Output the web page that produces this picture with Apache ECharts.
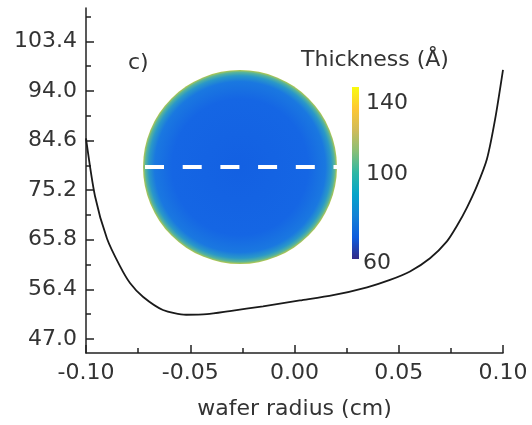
<!DOCTYPE html>
<html>
<head>
<meta charset="utf-8">
<title>wafer thickness profile</title>
<script src="https://cdn.jsdelivr.net/npm/echarts@6/dist/echarts.min.js"></script>
<style>
  html, body { margin: 0; padding: 0; background: #fff; }
  #chart { width: 532px; height: 425px; }
</style>
</head>
<body>
<div id="chart"></div>
<script>
// profile along the dashed line (wafer radius in cm, thickness)
var radius = [-0.100, -0.0957, -0.0899, -0.0837, -0.0789, -0.0727, -0.0631, -0.052, -0.042, -0.031, -0.0151, 0.0026, 0.0185, 0.0348, 0.0458, 0.0554, 0.065, 0.0731, 0.078, 0.0827, 0.0875, 0.0923, 0.0962, 0.100]
var thickness = [85.0, 74.1, 66.0, 60.8, 57.6, 55.0, 52.5, 51.6, 51.7, 52.3, 53.2, 54.3, 55.3, 56.8, 58.2, 59.8, 62.3, 65.5, 68.5, 71.9, 76.0, 81.1, 88.6, 98.0]

var yTicks = [47.0, 56.4, 65.8, 75.2, 84.6, 94.0, 103.4]
var yMinorTicks = [51.7, 61.1, 70.5, 79.9, 89.3, 98.7, 108.1]
var colorbarLabels = ['140', '100', '60']
var parula = ['#f9fb0e', '#fec832', '#d1bb59', '#87bf77', '#2eb7a4', '#06a4ca', '#1481d6', '#0f5cdd', '#352a87']

var font = 'DejaVu Sans'
var textColor = '#333'

var chart = echarts.init(document.getElementById('chart'))

var points = radius.map(function (x, i) {
  return [x, thickness[i]]
})

var cbarLabelY = [103, 174, 263]
var graphics = [
  {
    type: 'circle',
    shape: { cx: 240, cy: 167, r: 97 },
    style: {
      fill: new echarts.graphic.RadialGradient(0.5, 0.5, 0.5, [
        { offset: 0, color: '#1360e2' },
        { offset: 0.7, color: '#1566e4' },
        { offset: 0.88, color: '#1a78e0' },
        { offset: 0.94, color: '#2a98c8' },
        { offset: 0.975, color: '#56b39c' },
        { offset: 1, color: '#b6c84c' }
      ])
    },
    z: 10
  },
  {
    type: 'line',
    shape: { x1: 145, y1: 167, x2: 338, y2: 167 },
    style: { stroke: '#fff', lineWidth: 4, lineDash: [19, 18.7] },
    z: 11
  },
  {
    type: 'rect',
    shape: { x: 352, y: 87, width: 7, height: 172 },
    style: {
      fill: new echarts.graphic.LinearGradient(0, 0, 0, 1, parula.map(function (c, i) {
        return { offset: i / (parula.length - 1), color: c }
      }))
    },
    z: 10
  },
  {
    type: 'text',
    left: 128,
    top: 52,
    style: { text: 'c)', font: '22px "' + font + '"', fill: textColor },
    z: 10
  },
  {
    type: 'text',
    left: 301,
    top: 49,
    style: { text: 'Thickness (Å)', font: '22px "' + font + '"', fill: textColor },
    z: 10
  }
]
colorbarLabels.forEach(function (t, i) {
  graphics.push({
    type: 'text',
    x: t.length === 2 ? 363 : 366,
    y: cbarLabelY[i],
    style: { text: t, font: '22px "' + font + '"', fill: textColor, verticalAlign: 'middle' },
    z: 10
  })
})

chart.setOption({
  animation: false,
  grid: {
    left: 86,
    right: 29,
    top: 8,
    bottom: 70
  },
  xAxis: {
    type: 'value',
    min: -0.1,
    max: 0.1,
    interval: 0.05,
    name: 'wafer radius (cm)',
    nameLocation: 'middle',
    nameGap: 45,
    nameTextStyle: { fontFamily: font, fontSize: 22, color: textColor },
    splitLine: { show: false },
    axisLine: { onZero: false, lineStyle: { color: '#222', width: 1.5 } },
    axisTick: { inside: true, length: 8, lineStyle: { color: '#222', width: 1.5 } },
    minorTick: { show: true, splitNumber: 2, length: 5, lineStyle: { color: '#222', width: 1.5 } },
    axisLabel: {
      fontFamily: font,
      fontSize: 22,
      color: textColor,
      margin: 9,
      formatter: function (v) {
        return (Math.abs(v) < 1e-9 ? 0 : v).toFixed(2)
      }
    }
  },
  yAxis: [
    {
      type: 'value',
      min: 44.35,
      max: 109.7,
      splitLine: { show: false },
      axisLine: { show: true, onZero: false, lineStyle: { color: '#222', width: 1.5 } },
      axisTick: { inside: true, length: 8, customValues: yTicks, lineStyle: { color: '#222', width: 1.5 } },
      axisLabel: {
        customValues: yTicks,
        fontFamily: font,
        fontSize: 22,
        color: textColor,
        margin: 9,
        formatter: function (v) {
          return v.toFixed(1)
        }
      }
    },
    {
      type: 'value',
      position: 'left',
      min: 44.35,
      max: 109.7,
      splitLine: { show: false },
      axisLine: { show: false, onZero: false },
      axisTick: { inside: true, length: 5, customValues: yMinorTicks, lineStyle: { color: '#222', width: 1.5 } },
      axisLabel: { show: false }
    }
  ],
  graphic: graphics,
  series: [
    {
      type: 'line',
      data: points,
      smooth: 0.25,
      showSymbol: false,
      lineStyle: { color: '#1a1a1a', width: 1.8 },
      z: 2
    }
  ]
})
</script>
</body>
</html>
